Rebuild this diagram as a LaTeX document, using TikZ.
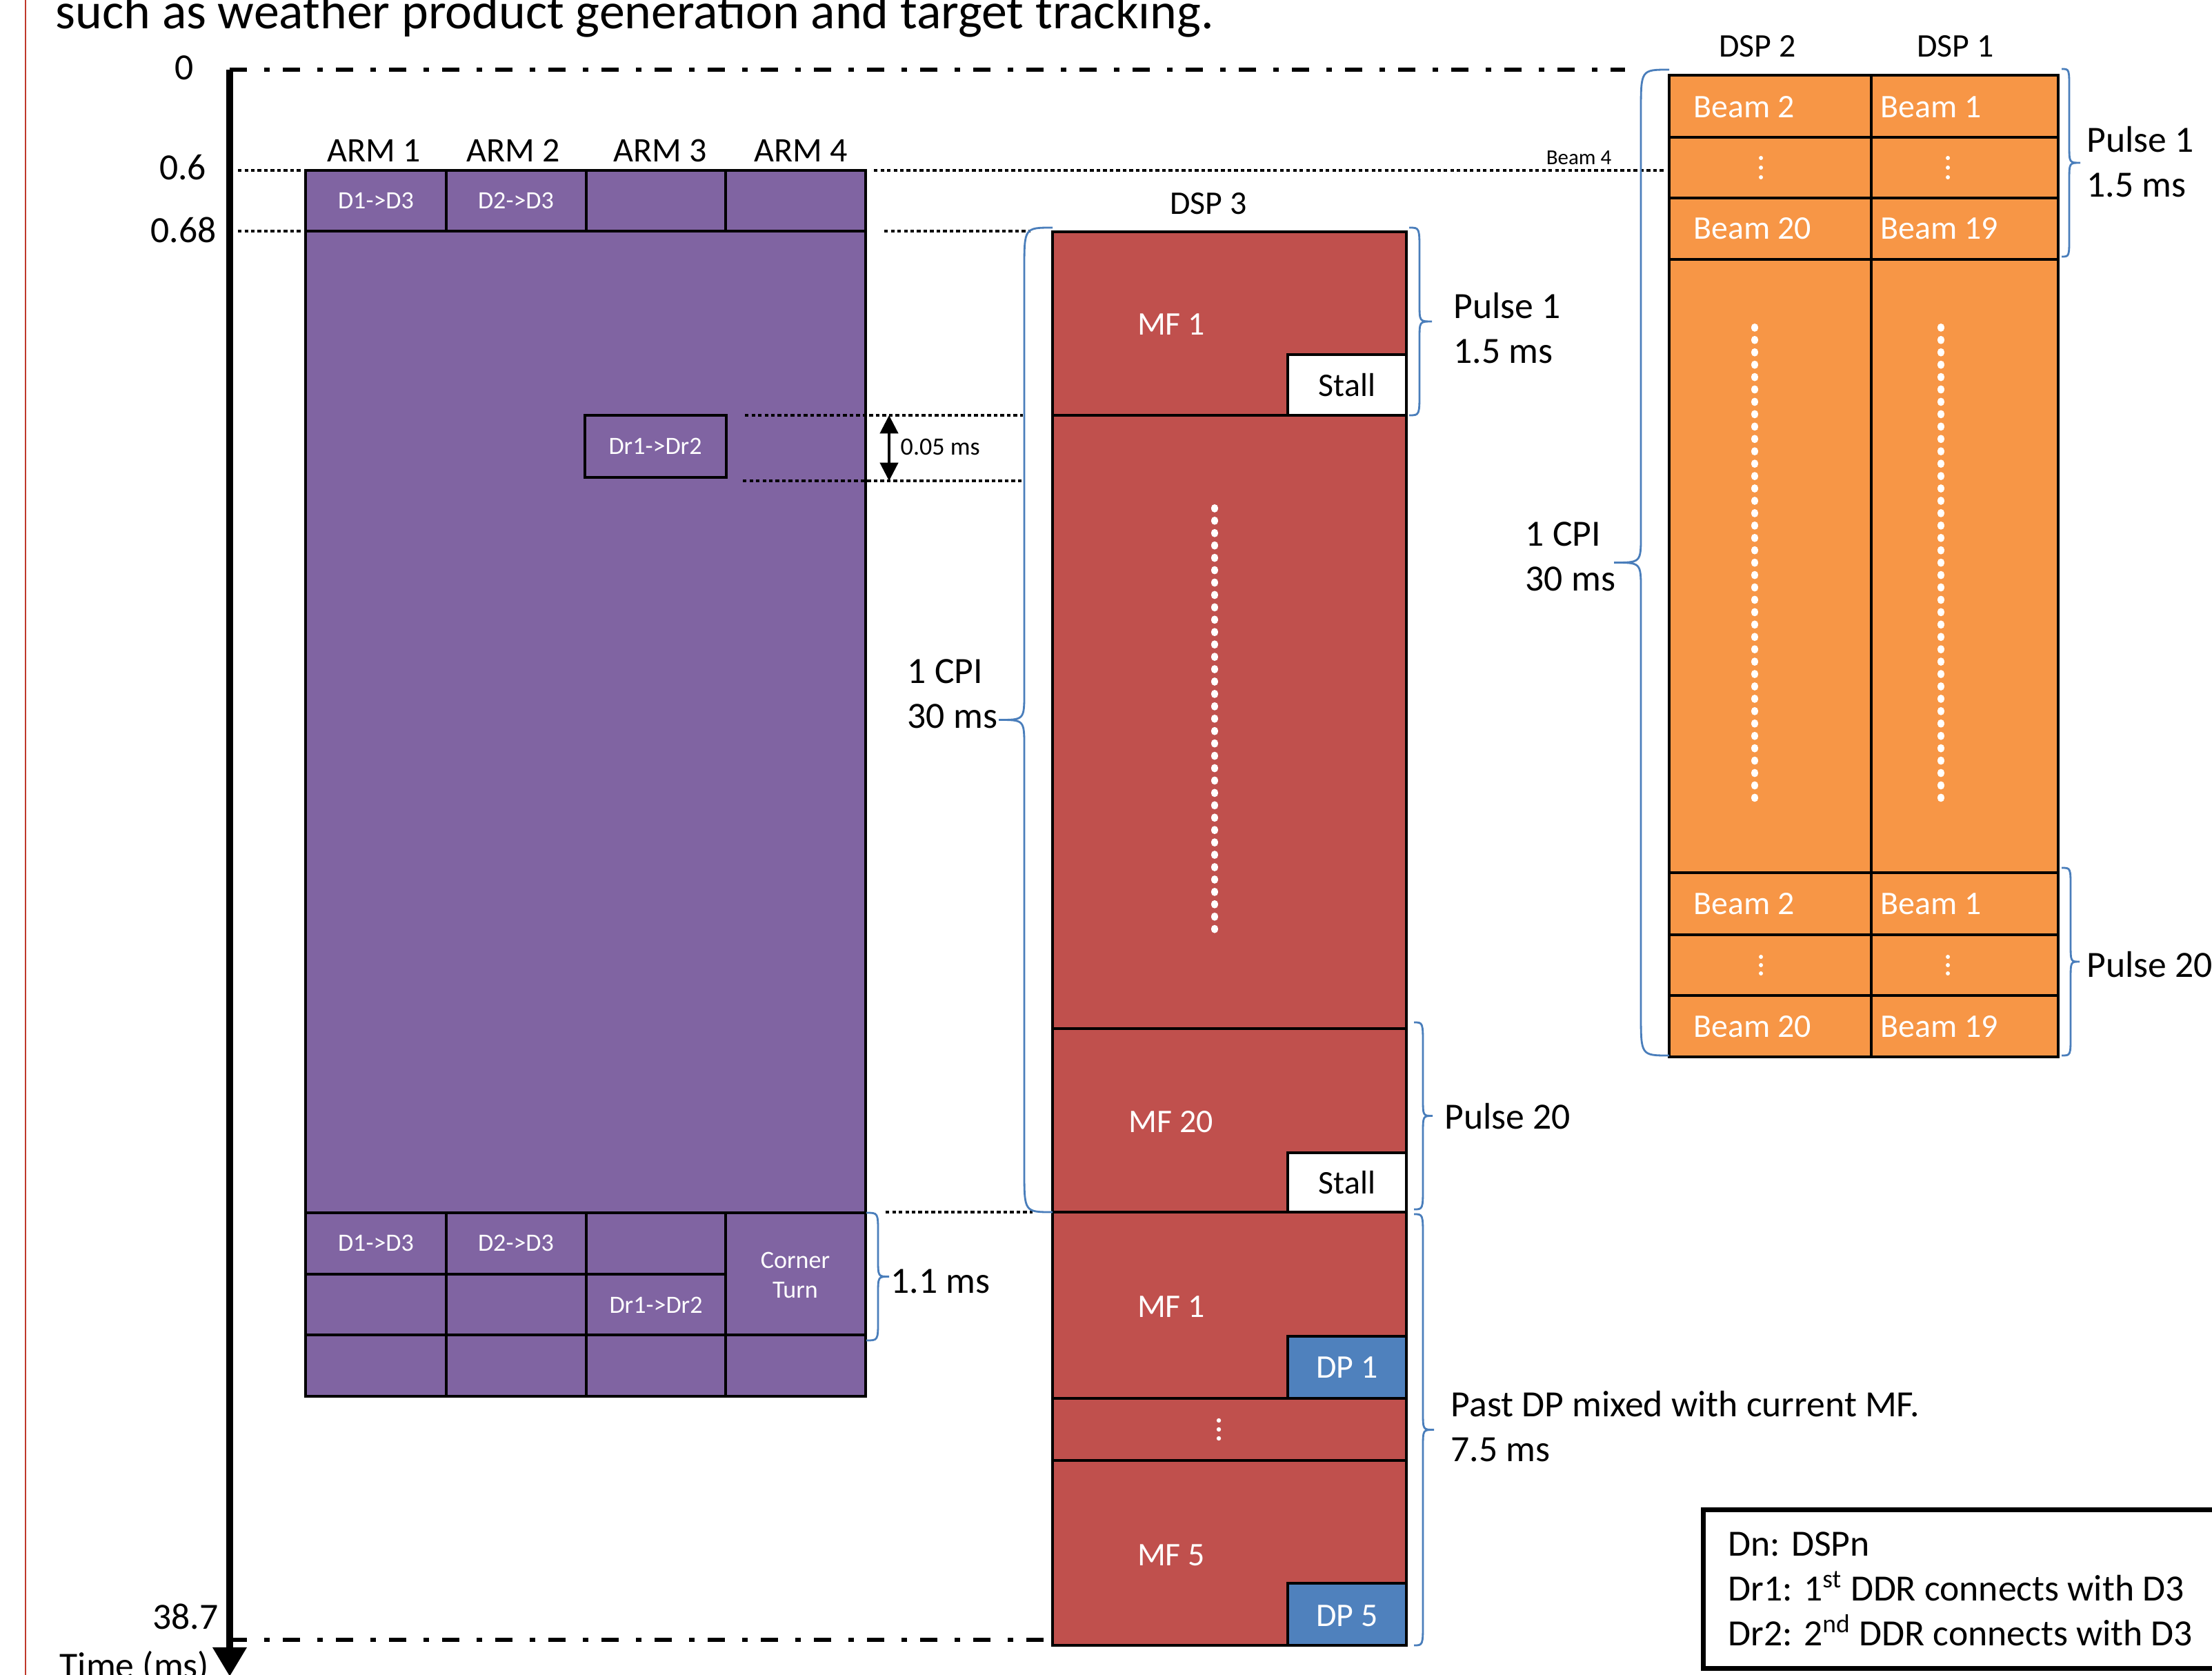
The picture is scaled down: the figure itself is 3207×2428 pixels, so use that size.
\documentclass[tikz,border=0pt]{standalone}
\usepackage{fontspec}
\setmainfont{Carlito}
\usetikzlibrary{arrows.meta}
\definecolor{purp}{HTML}{8064A2}
\definecolor{redc}{HTML}{C0504D}
\definecolor{orng}{HTML}{F79646}
\definecolor{bluec}{HTML}{4F81BD}
\definecolor{bracec}{HTML}{4A7EBB}
\definecolor{marginred}{HTML}{C0392B}
% #1 end x, #2 straight x, #3 tip x, #4 top y, #5 bottom y, #6 end radius, #7 tip radius
\newcommand{\drawbrace}[7]{%
  \pgfmathsetmacro{\bmid}{(#4+#5)/2}%
  \draw[bracestyle] (#1,#4) .. controls (#2,#4) .. (#2,#4+#6) -- (#2,\bmid-#7)
    .. controls (#2,\bmid) .. (#3,\bmid) .. controls (#2,\bmid) .. (#2,\bmid+#7)
    -- (#2,#5-#6) .. controls (#2,#5) .. (#1,#5);}
\begin{document}
\begin{tikzpicture}[x=0.01cm,y=-0.01cm,
  txt/.style={inner sep=0pt},
  ftitle/.style={font=\fontsize{21}{25}\selectfont},
  fbig/.style={font=\fontsize{15.25}{18.5}\selectfont},
  fmed/.style={font=\fontsize{13.6}{16}\selectfont},
  farm/.style={font=\fontsize{14.2}{17}\selectfont},
  fsmall/.style={font=\fontsize{10.25}{12.2}\selectfont},
  ftiny/.style={font=\fontsize{8.8}{10}\selectfont},
  wtxt/.style={txt,text=white},
  cellP/.style={fill=purp,draw=black,line width=1.2pt},
  cellR/.style={fill=redc,draw=black,line width=1.2pt},
  cellO/.style={fill=orng,draw=black,line width=1.2pt},
  cellB/.style={fill=bluec,draw=black,line width=1.2pt},
  cellW/.style={fill=white,draw=black,line width=1.2pt},
  bracestyle/.style={draw=bracec,line width=0.8pt},
  dotline/.style={draw=black,line width=1pt,dash pattern=on 1.5pt off 1.2pt},
  wdots/.style={draw=white,line width=2.85pt,line cap=round,dash pattern=on 0.5pt off 4.6pt},
  dashdotline/.style={draw=black,line width=1.9pt,dash pattern=on 7.1pt off 7.1pt on 2.3pt off 5.4pt},
]
\useasboundingbox (0,0) rectangle (3207,2428);

% title and margin
\node[txt,ftitle,anchor=base west] (title) at (80,42) {such as weather product generation and target tracking.};
\draw[marginred,line width=0.6pt] (37,0) -- (37,2428);

% time axis
\coordinate (axtop) at (333,101);
\coordinate (axbot) at (333,2430);
\coordinate (ttop) at (2356,101);
\coordinate (tbot) at (1526,2377);
\coordinate (abot) at (333,2377);
\draw[dashdotline] (axtop) -- (ttop);
\draw[dashdotline] (abot) -- (tbot);
\draw[line width=2.6pt,-{Triangle[width=13.5pt,length=12pt]}] (axtop) -- (axbot);
\node[txt,fbig] (l0) at (267,98) {0};
\node[txt,fbig] (l06) at (265,243) {0.6};
\node[txt,fbig] (l068) at (266,333) {0.68};
\node[txt,fbig] (l387) at (269,2343) {38.7};
\node[txt,fbig,anchor=base west] (ltime) at (86,2432) {Time (ms)};

% dotted guide lines
\draw[dotline] (345,247) -- (437,247);
\draw[dotline] (345,335) -- (437,335);
\draw[dotline] (1267,247) -- (2414,247);
\draw[dotline] (1282,335) -- (1494,335);
\draw[dotline] (1284,1757) -- (1497,1757);
\node[txt,ftiny] (beam4) at (2289,229) {Beam 4};

% ---------------- ARM block (purple) ----------------
\node[txt,farm] (arm1) at (542,218) {ARM 1};
\node[txt,farm] (arm2) at (744,218) {ARM 2};
\node[txt,farm] (arm3) at (957,218) {ARM 3};
\node[txt,farm] (arm4) at (1161,218) {ARM 4};
\path[cellP] (443,247) rectangle (647,335);
\path[cellP] (647,247) rectangle (850,335);
\path[cellP] (850,247) rectangle (1052,335);
\path[cellP] (1052,247) rectangle (1255,335);
\path[cellP] (443,335) rectangle (1255,1758);
\path[cellP] (848,602) rectangle (1053,692);
\path[cellP] (443,1758) rectangle (647,1847);
\path[cellP] (647,1758) rectangle (850,1847);
\path[cellP] (850,1758) rectangle (1052,1847);
\path[cellP] (1052,1758) rectangle (1255,1935);
\path[cellP] (443,1847) rectangle (647,1935);
\path[cellP] (647,1847) rectangle (850,1935);
\path[cellP] (850,1847) rectangle (1052,1935);
\path[cellP] (443,1935) rectangle (647,2024);
\path[cellP] (647,1935) rectangle (850,2024);
\path[cellP] (850,1935) rectangle (1052,2024);
\path[cellP] (1052,1935) rectangle (1255,2024);
\node[wtxt,fsmall] (a1) at (545,291) {D1->D3};
\node[wtxt,fsmall] (a2) at (748,291) {D2->D3};
\node[wtxt,fsmall] (a3) at (950,647) {Dr1->Dr2};
\node[wtxt,fsmall] (a4) at (545,1802) {D1->D3};
\node[wtxt,fsmall] (a5) at (748,1802) {D2->D3};
\node[wtxt,fsmall] (a6) at (951,1892) {Dr1->Dr2};
\node[wtxt,fsmall,align=center] (a7) at (1153,1848) {Corner\\Turn};

% 0.05 ms marker
\draw[dotline] (1080,602) -- (1483,602);
\draw[dotline] (1077,697) -- (1483,697);
\coordinate (d1) at (1289,602);
\coordinate (d2) at (1289,697);
\draw[line width=0.9pt,{Triangle[width=7.5pt,length=7.5pt]}-{Triangle[width=7.5pt,length=7.5pt]}] (d1) -- (d2);
\node[txt,fsmall,anchor=west] (l005) at (1305,648) {0.05 ms};

% 1.1 ms
\drawbrace{1256}{1273}{1289}{1758}{1943}{30}{25}
\node[txt,fbig,anchor=west] (l11) at (1291,1857) {1.1 ms};

% ---------------- DSP 3 (red) ----------------
\node[txt,fmed] (dsp3) at (1752,295) {DSP 3};
\path[cellR] (1526,336) rectangle (2039,602);
\path[cellW] (1867,514) rectangle (2039,602);
\path[cellR] (1526,602) rectangle (2039,1491);
\path[cellR] (1526,1491) rectangle (2039,1757);
\path[cellW] (1867,1671) rectangle (2039,1757);
\path[cellR] (1526,1757) rectangle (2039,2027);
\path[cellB] (1867,1937) rectangle (2039,2027);
\path[cellR] (1526,2027) rectangle (2039,2117);
\path[cellR] (1526,2117) rectangle (2039,2385);
\path[cellB] (1867,2295) rectangle (2039,2385);
\node[wtxt,fmed] (mf1) at (1698,470) {MF 1};
\node[txt,fmed] (st1) at (1953,558) {Stall};
\draw[wdots] (1761,736) -- (1761,1360);
\node[wtxt,fmed] (mf20) at (1698,1626) {MF 20};
\node[txt,fmed] (st20) at (1953,1714) {Stall};
\node[wtxt,fmed] (mf1b) at (1698,1894) {MF 1};
\node[wtxt,fmed] (dp1) at (1953,1982) {DP 1};
\fill[white] (1767,2059) circle[radius=3.2] (1767,2072) circle[radius=3.2] (1767,2085) circle[radius=3.2];
\node[wtxt,fmed] (mf5) at (1698,2254) {MF 5};
\node[wtxt,fmed] (dp5) at (1953,2342) {DP 5};

\drawbrace{1526}{1485}{1448}{330}{1757}{60}{40}
\node[txt,fbig,anchor=west,align=left] (cpi3) at (1315,1006) {1 CPI\\30 ms};
\drawbrace{2043}{2058}{2076}{330}{602}{35}{25}
\node[txt,fbig,anchor=west,align=left] (p1) at (2107,476) {Pulse 1\\1.5 ms};
\drawbrace{2050}{2063}{2077}{1482}{1753}{35}{25}
\node[txt,fbig,anchor=west] (p20) at (2094,1618) {Pulse 20};
\drawbrace{2050}{2063}{2079}{1760}{2385}{35}{25}
\node[txt,fbig,anchor=west,align=left] (past) at (2103,2068) {Past DP mixed with current MF.\\7.5 ms};

% ---------------- DSP 2 / DSP 1 (orange) ----------------
\node[txt,fmed] (dsp2) at (2548,67) {DSP 2};
\node[txt,fmed] (dsp1) at (2835,67) {DSP 1};
\foreach \ya/\yb in {109/199,199/287,287/376,376/1265,1265/1355,1355/1443,1443/1532}{
  \path[cellO] (2420,\ya) rectangle (2713,\yb);
  \path[cellO] (2713,\ya) rectangle (2984,\yb);
}
\node[wtxt,fmed,anchor=west] (b2a) at (2455,155) {Beam 2};
\node[wtxt,fmed,anchor=west] (b1a) at (2726,155) {Beam 1};
\node[wtxt,fmed,anchor=west] (b20a) at (2455,331) {Beam 20};
\node[wtxt,fmed,anchor=west] (b19a) at (2726,331) {Beam 19};
\node[wtxt,fmed,anchor=west] (b2b) at (2455,1310) {Beam 2};
\node[wtxt,fmed,anchor=west] (b1b) at (2726,1310) {Beam 1};
\node[wtxt,fmed,anchor=west] (b20b) at (2455,1488) {Beam 20};
\node[wtxt,fmed,anchor=west] (b19b) at (2726,1488) {Beam 19};
\foreach \xx in {2553,2824}{
  \fill[white] (\xx,229) circle[radius=3] (\xx,243) circle[radius=3] (\xx,257) circle[radius=3];
  \fill[white] (\xx,1387) circle[radius=3] (\xx,1399) circle[radius=3] (\xx,1411) circle[radius=3];
}
\draw[wdots] (2544,474) -- (2544,1170);
\draw[wdots] (2814,474) -- (2814,1170);

\drawbrace{2420}{2379}{2340}{101}{1530}{60}{40}
\node[txt,fbig,anchor=west,align=left] (cpi12) at (2211,807) {1 CPI\\30 ms};
\drawbrace{2989}{3000}{3016}{100}{372}{30}{25}
\node[txt,fbig,anchor=west,align=left] (p1o) at (3025,235) {Pulse 1\\1.5 ms};
\drawbrace{2989}{3002}{3015}{1258}{1530}{30}{25}
\node[txt,fbig,anchor=west] (p20o) at (3025,1398) {Pulse 20};

% ---------------- legend ----------------
\draw[line width=2pt] (2469,2188) rectangle (3240,2418);
\node[txt,fbig,anchor=base west] (lg1) at (2505,2255) {Dn: DSPn};
\node[txt,fbig,anchor=base west] (lg2) at (2505,2320) {Dr1: 1\textsuperscript{st} DDR connects with D3};
\node[txt,fbig,anchor=base west] (lg3) at (2505,2385) {Dr2: 2\textsuperscript{nd} DDR connects with D3};
\end{tikzpicture}
\end{document}
